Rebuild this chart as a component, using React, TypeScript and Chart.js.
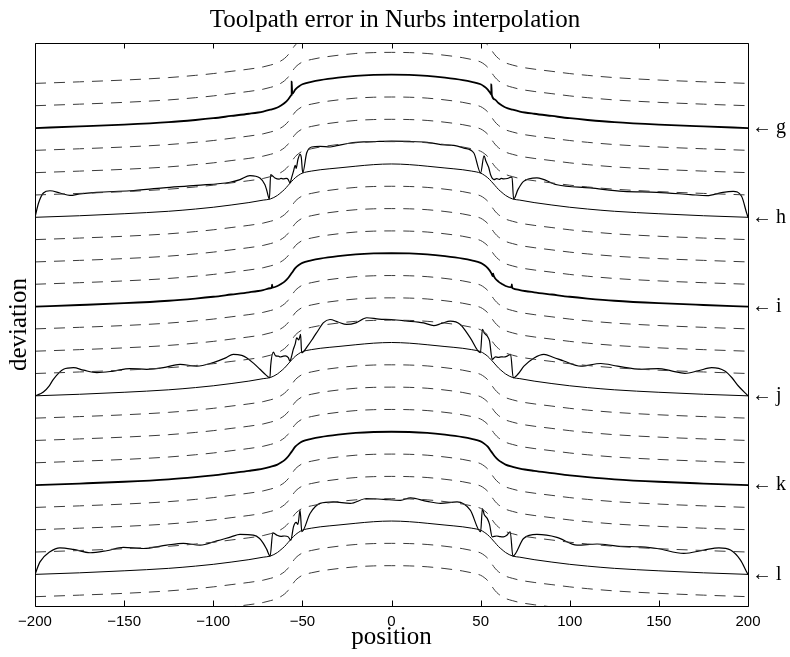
import React, { useEffect, useRef } from 'react';
import { Chart, registerables } from 'chart.js';

Chart.register(...registerables);

const TITLE = 'Toolpath error in Nurbs interpolation';
const X_LABEL = 'position';
const Y_LABEL = 'deviation';
const X_TICKS = [-200, -150, -100, -50, 0, 50, 100, 150, 200];
const CURVE_NAMES = ['g', 'h', 'i', 'j', 'k', 'l'];
const CURVE_LEVELS = [21, 17, 13, 9, 5, 1];
const DASHED_LEVELS = [23, 22, 20, 19, 18, 16, 15, 14, 12, 11, 10, 8, 7, 6, 4, 3, 2, 0, -1];
const THICK_LEVELS = [21, 13, 5];
const THIN_LEVELS = [17, 9, 1];
const Y_MIN = -0.417;
const Y_MAX = 24.81;

// nominal path profile (dashed offsets and thick error curves)
const profileX = [-200, -175, -150, -125, -110, -100, -90, -80, -72, -68, -64, -62, -60, -58, -56, -54, -52, -50, -45, -40, -30, -20, -10, 0,
  10, 20, 30, 40, 45, 50, 52, 54, 56, 58, 60, 62, 64, 68, 72, 80, 90, 100, 110, 125, 150, 175, 200];
const profileY = [0, 0.07, 0.15, 0.26, 0.36, 0.44, 0.54, 0.64, 0.74, 0.82, 0.92, 1.01, 1.12, 1.28, 1.50, 1.72, 1.86, 1.96, 2.07, 2.15, 2.26, 2.34, 2.38, 2.39,
  2.38, 2.34, 2.26, 2.15, 2.07, 1.96, 1.86, 1.72, 1.50, 1.28, 1.12, 1.01, 0.92, 0.82, 0.74, 0.64, 0.54, 0.44, 0.36, 0.26, 0.15, 0.07, 0];
// thin base curve under the oscillating curves
const thinBaseY = [0, 0.07, 0.16, 0.27, 0.37, 0.45, 0.55, 0.66, 0.77, 0.82, 0.98, 1.11, 1.25, 1.43, 1.61, 1.77, 1.89, 1.98, 2.07, 2.13, 2.21, 2.29, 2.36, 2.39,
  2.36, 2.29, 2.21, 2.13, 2.07, 1.98, 1.89, 1.77, 1.61, 1.43, 1.25, 1.11, 0.98, 0.82, 0.77, 0.66, 0.55, 0.45, 0.37, 0.27, 0.16, 0.07, 0];

// small spikes on thick curves
const gSpikeX = [-56.3, -56, -55.7, 55.7, 56, 56.3];
const gSpikeY = [1.47, 2.08, 1.53, 1.53, 1.95, 1.47];
const iSpikeX = [-67.2, -67, -66.8, 56.8, 57, 57.2, 67.3, 67.5, 67.7];
const iSpikeY = [0.84, 0.98, 0.85, 1.36, 1.47, 1.41, 0.86, 0.99, 0.85];

// oscillating curve h (height above its level)
const hWaveX = [-200, -198, -195.3, -191.6, -186, -180.4, -174.8, -165.4, -146.7, -128, -109.3, -90.6, -85, -79.4, -73.8, -71, -70, -68.5, -67.8, -65.4, -63, -62, -60.7, -59, -57.9, -57, -56, -55, -54, -53.5, -52.5, -51.3, -50.6, -49.8, -47.6, -44.8, -40.1, -34.5, -30.8, -23, -15, -6.5, 0,
  10, 20, 30, 35, 40.6, 46.2, 50, 51.9, 53, 54.5, 55.7, 57.5, 59, 60.5, 61.5, 62.9, 65, 67.6, 68.5, 71, 74.1, 81.6, 92.8, 111.5, 130, 148.9, 167.6, 177, 186, 191.7, 196.4, 199.2, 200];
const hWaveY = [0, 0.64, 1.09, 1.19, 1.09, 0.98, 1.05, 1.12, 1.19, 1.32, 1.43, 1.57, 1.69, 1.87, 1.76, 1.46, 1.21, 0.82, 1.91, 1.76, 1.71, 1.74, 1.72, 1.74, 1.69, 1.54, 1.79, 2.06, 2.33, 2.19, 2.59, 2.82, 2.68, 1.99, 2.88, 3.15, 3.18, 3.15, 3.21, 3.33, 3.38, 3.40, 3.41,
  3.40, 3.36, 3.24, 3.22, 3.10, 2.88, 1.99, 2.75, 2.51, 2.24, 1.88, 1.69, 1.73, 1.70, 1.74, 1.72, 1.74, 1.81, 0.82, 1.25, 1.61, 1.77, 1.46, 1.32, 1.16, 1.12, 1.02, 0.97, 1.12, 1.16, 0.94, 0.20, 0];

// oscillating curve j
const jWaveX = [-200, -197, -195.3, -192, -189.7, -184, -178.4, -172.8, -165.3, -156, -146.7, -137.3, -128, -118.6, -109.3, -100, -93, -88.8, -84, -81.3, -77, -73.8, -70.5, -68.2, -67.8, -66.3, -65, -63.5, -62.5, -61, -59.5, -57.9, -57, -56, -55.1, -54, -53.2, -52, -51, -50.4, -47, -43.9, -41, -38.3, -34.5, -30, -25.2, -20, -13.9, -7, 0,
  8, 18, 23.7, 28, 33, 38.6, 44.2, 49.9, 51, 52, 53.7, 55, 56.5, 58.3, 60, 61.5, 63, 64.9, 66.8, 68.3, 71, 74.3, 80, 85.5, 91, 96.7, 106.2, 117.4, 126.8, 140.3, 149.6, 157, 164.6, 172, 179.6, 187, 191, 194.6, 200];
const jWaveY = [0, 0.09, 0.17, 0.45, 0.74, 1.19, 1.26, 1.15, 1.04, 1.11, 1.22, 1.19, 1.26, 1.41, 1.33, 1.49, 1.70, 1.86, 1.81, 1.71, 1.43, 1.19, 0.94, 0.81, 1.34, 1.96, 1.79, 1.78, 1.74, 1.77, 1.79, 1.71, 1.56, 1.79, 2.08, 2.33, 2.60, 2.51, 2.75, 1.93, 2.24, 2.60, 2.95, 3.27, 3.42, 3.31, 3.20, 3.27, 3.50, 3.44, 3.42,
  3.36, 3.27, 3.15, 3.24, 3.35, 3.20, 2.60, 1.93, 2.98, 2.82, 2.68, 2.46, 1.63, 1.75, 1.72, 1.75, 1.74, 1.78, 1.86, 0.81, 0.98, 1.33, 1.70, 1.86, 1.72, 1.56, 1.33, 1.45, 1.33, 1.19, 1.22, 1.12, 1.01, 1.12, 1.26, 1.11, 0.81, 0.44, 0];

// oscillating curve l
const lWaveX = [-200, -197.2, -191.6, -186, -178.5, -169.1, -159.8, -150.4, -139.2, -126.1, -116.8, -107.4, -98, -90, -85, -77.5, -74, -71.9, -70, -68.1, -66.6, -64.4, -62, -60, -57.9, -56.5, -55, -53.5, -52.5, -51.3, -50.3, -45.7, -40.1, -32.6, -23.2, -13.9, -4.5,
  5, 10.7, 20, 27.5, 36.8, 44.2, 50, 51, 52, 53.7, 55, 56.5, 59, 61, 62.8, 64.5, 66.6, 68.1, 74.1, 81.6, 92.8, 104.1, 115.3, 126.5, 139.7, 149, 164, 175.3, 183.7, 190.2, 195.8, 199.5, 200];
const lWaveY = [0, 0.56, 1.01, 1.19, 1.12, 0.97, 1.06, 1.21, 1.16, 1.31, 1.39, 1.31, 1.50, 1.68, 1.79, 1.76, 1.61, 1.39, 1.12, 0.82, 1.86, 1.76, 1.70, 1.72, 1.68, 1.53, 2.13, 2.33, 2.24, 2.88, 1.91, 2.73, 3.18, 3.25, 3.18, 3.40, 3.36,
  3.32, 3.43, 3.27, 3.18, 3.25, 2.88, 1.91, 2.95, 2.68, 2.51, 2.24, 1.68, 1.72, 1.69, 1.68, 1.74, 1.91, 0.82, 1.61, 1.79, 1.66, 1.31, 1.36, 1.27, 1.23, 1.16, 0.94, 1.09, 1.19, 1.09, 0.64, 0.07, 0];

const SERIF = "'Liberation Serif', 'Times New Roman', serif";
const SANS = "'Liberation Sans', Arial, sans-serif";

function toPoints(xs: number[], ys: number[], level: number) {
  return xs.map((x, i) => ({ x, y: level + ys[i] }));
}

function withSpikes(level: number, sx: number[], sy: number[]) {
  const pts = toPoints(profileX, profileY, level).concat(toPoints(sx, sy, level));
  return pts.sort((a, b) => a.x - b.x);
}

const framePlugin = {
  id: 'frame',
  afterDatasetsDraw(chart: any) {
    const { ctx, chartArea: a, scales } = chart;
    const xs = scales.x;
    ctx.save();
    ctx.strokeStyle = '#000';
    ctx.lineWidth = 1;
    const l = Math.round(a.left) + 0.5;
    const t = Math.round(a.top) + 0.5;
    const r = Math.round(a.right) + 0.5;
    const b = Math.round(a.bottom) + 0.5;
    ctx.beginPath();
    ctx.rect(l, t, r - l, b - t);
    X_TICKS.forEach((v) => {
      const px = Math.round(xs.getPixelForValue(v)) + 0.5;
      ctx.moveTo(px, b);
      ctx.lineTo(px, b - 6);
      ctx.moveTo(px, t);
      ctx.lineTo(px, t + 5);
    });
    ctx.stroke();
    ctx.restore();
  },
};

export default function App() {
  const ref = useRef<HTMLCanvasElement | null>(null);

  useEffect(() => {
    if (!ref.current) return;
    const datasets: any[] = [];
    DASHED_LEVELS.forEach((lv) => {
      datasets.push({
        data: toPoints(profileX, profileY, lv),
        borderColor: '#3a3a3a',
        borderWidth: 1,
        borderDash: [11, 8],
      });
    });
    THIN_LEVELS.forEach((lv) => {
      datasets.push({ data: toPoints(profileX, thinBaseY, lv), borderColor: '#000', borderWidth: 1 });
    });
    datasets.push({ data: toPoints(hWaveX, hWaveY, 17), borderColor: '#000', borderWidth: 1.2 });
    datasets.push({ data: toPoints(jWaveX, jWaveY, 9), borderColor: '#000', borderWidth: 1.2 });
    datasets.push({ data: toPoints(lWaveX, lWaveY, 1), borderColor: '#000', borderWidth: 1.2 });
    datasets.push({ data: withSpikes(THICK_LEVELS[0], gSpikeX, gSpikeY), borderColor: '#000', borderWidth: 1.8 });
    datasets.push({ data: withSpikes(THICK_LEVELS[1], iSpikeX, iSpikeY), borderColor: '#000', borderWidth: 1.8 });
    datasets.push({ data: withSpikes(THICK_LEVELS[2], [], []), borderColor: '#000', borderWidth: 1.8 });

    datasets.forEach((d) => {
      d.pointRadius = 0;
      d.cubicInterpolationMode = 'monotone';
      d.fill = false;
      d.clip = 0;
    });

    const chart = new Chart(ref.current, {
      type: 'line',
      data: { datasets },
      plugins: [framePlugin],
      options: {
        responsive: true,
        maintainAspectRatio: false,
        animation: false,
        layout: { padding: 0 },
        plugins: {
          legend: { display: false },
          tooltip: { enabled: false },
          title: {
            display: true,
            text: TITLE,
            color: '#000',
            font: { family: SERIF, size: 25, weight: 'normal', lineHeight: 1 },
            padding: { top: 7.5, bottom: 10.5 },
          },
        },
        scales: {
          x: {
            type: 'linear',
            min: -200,
            max: 200,
            position: 'bottom',
            grid: { display: false, drawTicks: false },
            border: { display: false },
            ticks: {
              stepSize: 50,
              padding: 8,
              color: '#000',
              font: { family: SANS, size: 15, lineHeight: 1 },
              callback: (v: any) => String(v).replace('-', '\u2212'),
            },
            title: {
              display: true,
              text: X_LABEL,
              color: '#000',
              font: { family: SERIF, size: 25, lineHeight: 1 },
              padding: { top: 0, bottom: 7 },
            },
            afterFit: (s: any) => {
              s.height = 51;
            },
          },
          y: {
            type: 'linear',
            min: Y_MIN,
            max: Y_MAX,
            position: 'left',
            grid: { display: false, drawTicks: false },
            border: { display: false },
            ticks: { display: false },
            title: {
              display: true,
              text: Y_LABEL,
              color: '#000',
              font: { family: SERIF, size: 25, lineHeight: 1 },
              padding: { top: 7, bottom: 0 },
            },
            afterFit: (s: any) => {
              s.width = 35;
            },
          },
          yR: {
            type: 'linear',
            min: Y_MIN,
            max: Y_MAX,
            position: 'right',
            grid: { display: false, drawTicks: false },
            border: { display: false },
            afterBuildTicks: (s: any) => {
              s.ticks = CURVE_LEVELS.map((v) => ({ value: v }));
            },
            ticks: {
              autoSkip: false,
              padding: 4,
              color: '#000',
              font: { family: SERIF, size: 20, lineHeight: 1 },
              callback: (v: any) => {
                const i = CURVE_LEVELS.indexOf(Number(v));
                return i >= 0 ? '\u2190\u2009' + CURVE_NAMES[i] : '';
              },
            },
            afterFit: (s: any) => {
              s.width = 42;
            },
          },
        },
      } as any,
    });
    return () => chart.destroy();
  }, []);

  return (
    <div style={{ position: 'fixed', left: 0, top: 0, width: 790, height: 657, background: '#fff' }}>
      <canvas ref={ref} />
    </div>
  );
}
